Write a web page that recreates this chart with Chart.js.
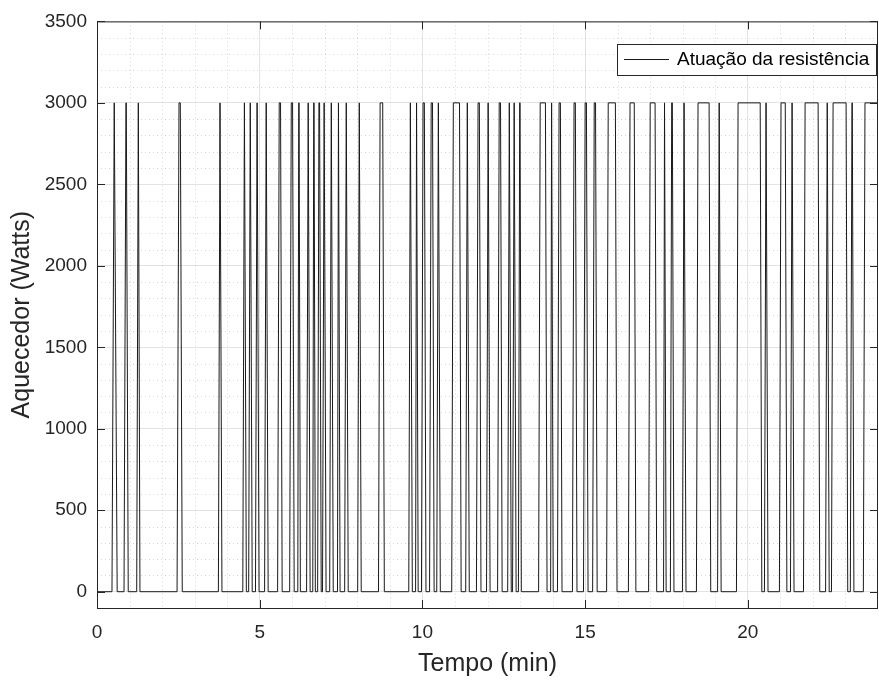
<!DOCTYPE html>
<html lang="pt">
<head>
<meta charset="utf-8">
<title>Atuação da resistência</title>
<script src="https://cdn.jsdelivr.net/npm/chart.js@4/dist/chart.umd.min.js"></script>
<style>
  html, body { margin: 0; padding: 0; background: #fff; }
  #wrap { width: 879px; height: 680px; }
</style>
</head>
<body>
<div id="wrap"><canvas id="grafico" width="879" height="680"></canvas></div>
<script>
// pulsos da resistência: [início da subida, topo início, topo fim, fim da descida] em minutos
const pulsos = [
  [0.46, 0.53, 0.55, 0.62],
  [0.83, 0.89, 0.90, 0.96],
  [1.22, 1.27, 1.28, 1.32],
  [2.46, 2.52, 2.56, 2.62],
  [3.73, 3.78, 3.79, 3.84],
  [4.48, 4.53, 4.54, 4.59],
  [4.66, 4.71, 4.72, 4.77],
  [4.87, 4.92, 4.93, 4.98],
  [5.15, 5.20, 5.21, 5.26],
  [5.55, 5.60, 5.64, 5.69],
  [5.92, 5.97, 6.01, 6.06],
  [6.17, 6.20, 6.21, 6.25],
  [6.44, 6.49, 6.50, 6.55],
  [6.63, 6.66, 6.67, 6.71],
  [6.78, 6.82, 6.84, 6.89],
  [6.93, 6.98, 6.99, 7.04],
  [7.15, 7.20, 7.21, 7.26],
  [7.39, 7.42, 7.43, 7.47],
  [7.61, 7.66, 7.67, 7.72],
  [8.01, 8.06, 8.07, 8.12],
  [8.65, 8.70, 8.78, 8.83],
  [9.58, 9.63, 9.64, 9.69],
  [9.79, 9.82, 9.83, 9.87],
  [9.97, 10.02, 10.06, 10.11],
  [10.22, 10.27, 10.31, 10.36],
  [10.44, 10.49, 10.50, 10.55],
  [10.90, 10.95, 11.14, 11.19],
  [11.33, 11.38, 11.39, 11.44],
  [11.66, 11.71, 11.75, 11.80],
  [11.97, 12.02, 12.03, 12.08],
  [12.31, 12.36, 12.40, 12.45],
  [12.62, 12.67, 12.68, 12.73],
  [12.77, 12.82, 12.83, 12.88],
  [12.95, 12.99, 13.00, 13.04],
  [13.57, 13.62, 13.78, 13.83],
  [13.94, 13.97, 13.98, 14.02],
  [14.15, 14.20, 14.24, 14.29],
  [14.61, 14.66, 14.70, 14.75],
  [14.95, 15.00, 15.04, 15.09],
  [15.23, 15.28, 15.32, 15.37],
  [15.66, 15.71, 15.93, 15.98],
  [16.33, 16.38, 16.51, 16.56],
  [16.95, 17.00, 17.15, 17.20],
  [17.41, 17.44, 17.45, 17.49],
  [17.62, 17.66, 17.68, 17.73],
  [17.99, 18.04, 18.05, 18.10],
  [18.42, 18.47, 18.81, 18.86],
  [19.07, 19.12, 19.13, 19.18],
  [19.65, 19.70, 20.38, 20.43],
  [20.51, 20.56, 20.57, 20.62],
  [20.97, 21.02, 21.15, 21.20],
  [21.31, 21.36, 21.37, 21.42],
  [21.71, 21.76, 22.16, 22.21],
  [22.39, 22.44, 22.45, 22.50],
  [22.57, 22.62, 23.02, 23.07],
  [23.15, 23.20, 23.21, 23.26],
  [23.55, 23.60, 24.00, 24.05]
];
const potenciaLigada = 3000;
const potenciaDesligada = 0;
const tempoFinal = 24;

const ticksX = [0, 5, 10, 15, 20];
const ticksY = [0, 500, 1000, 1500, 2000, 2500, 3000, 3500];

// monta a sequência de vértices da curva a partir dos pulsos
const pontos = [{ x: 0, y: potenciaDesligada }];
pulsos.forEach(p => {
  pontos.push({ x: p[0], y: potenciaDesligada });
  pontos.push({ x: p[1], y: potenciaLigada });
  pontos.push({ x: p[2], y: potenciaLigada });
  pontos.push({ x: p[3], y: potenciaDesligada });
});

const corEixo = '#262626';
const fonte = '"Liberation Sans", Arial, Helvetica, sans-serif';

// grade secundária pontilhada, moldura, marcas internas e legenda no estilo do MATLAB
const estiloMatlab = {
  id: 'estiloMatlab',
  beforeDatasetsDraw(chart) {
    const { ctx, chartArea: a, scales: { x, y } } = chart;
    ctx.save();
    ctx.beginPath();
    ctx.rect(a.left, a.top, a.right - a.left, a.bottom - a.top);
    ctx.clip();
    ctx.strokeStyle = 'rgba(0,0,0,0.16)';
    ctx.lineWidth = 1;
    ctx.setLineDash([1, 3]);
    for (let t = 1; t < tempoFinal; t++) {
      if (t % 5 === 0) continue;
      const px = Math.round(x.getPixelForValue(t)) + 0.5;
      ctx.beginPath(); ctx.moveTo(px, a.top); ctx.lineTo(px, a.bottom); ctx.stroke();
    }
    for (let w = 100; w < 3500; w += 100) {
      if (w % 500 === 0) continue;
      const py = Math.round(y.getPixelForValue(w)) + 0.5;
      ctx.beginPath(); ctx.moveTo(a.left, py); ctx.lineTo(a.right, py); ctx.stroke();
    }
    ctx.restore();
  },
  afterDraw(chart) {
    const { ctx, chartArea: a, scales: { x, y } } = chart;
    ctx.save();
    ctx.strokeStyle = corEixo;
    ctx.lineWidth = 1;
    ctx.strokeRect(a.left + 0.5, a.top + 0.5, a.right - a.left - 1, a.bottom - a.top);

    // marcas internas nos quatro lados
    const tam = 8;
    ctx.beginPath();
    ticksX.forEach(v => {
      const px = Math.round(x.getPixelForValue(v)) + 0.5;
      ctx.moveTo(px, a.bottom); ctx.lineTo(px, a.bottom - tam);
      ctx.moveTo(px, a.top); ctx.lineTo(px, a.top + tam);
    });
    ticksY.forEach(v => {
      const py = Math.round(y.getPixelForValue(v)) + 0.5;
      ctx.moveTo(a.left, py); ctx.lineTo(a.left + tam, py);
      ctx.moveTo(a.right, py); ctx.lineTo(a.right - tam, py);
    });
    ctx.stroke();

    // legenda
    const ds = chart.data.datasets[0];
    const lx = 617, ly = 44, lw = 259, lh = 31;
    ctx.fillStyle = '#fff';
    ctx.fillRect(lx, ly, lw, lh);
    ctx.strokeStyle = corEixo;
    ctx.strokeRect(lx + 0.5, ly + 0.5, lw, lh);
    ctx.strokeStyle = ds.borderColor;
    ctx.beginPath(); ctx.moveTo(624, ly + 15.5); ctx.lineTo(669, ly + 15.5); ctx.stroke();
    ctx.fillStyle = '#000';
    ctx.font = '19px ' + fonte;
    ctx.textBaseline = 'middle';
    ctx.fillText(ds.label, 677, ly + 16);
    ctx.restore();
  }
};

new Chart(document.getElementById('grafico'), {
  type: 'line',
  data: {
    datasets: [{
      label: 'Atuação da resistência',
      data: pontos,
      borderColor: '#1a1a1a',
      borderWidth: 1,
      pointRadius: 0,
      fill: false,
      tension: 0
    }]
  },
  options: {
    responsive: false,
    animation: false,
    events: [],
    layout: { padding: { top: 19, right: 1, left: 0, bottom: 0 } },
    plugins: { legend: { display: false }, tooltip: { enabled: false } },
    scales: {
      x: {
        type: 'linear',
        min: 0,
        max: tempoFinal,
        afterBuildTicks: s => { s.ticks = ticksX.map(v => ({ value: v })); },
        afterFit: s => { s.height = 72; },
        grid: { color: '#e3e3e3', drawTicks: false },
        border: { display: false },
        ticks: { color: corEixo, padding: 13, font: { family: fonte, size: 19 }, maxRotation: 0, callback: v => String(v) },
        title: { display: true, text: 'Tempo (min)', color: corEixo, padding: { top: 4, bottom: 1 }, font: { family: fonte, size: 25 } }
      },
      y: {
        min: -100,
        max: 3500,
        afterBuildTicks: s => { s.ticks = ticksY.map(v => ({ value: v })); },
        afterFit: s => { s.width = 97; },
        grid: { color: '#e3e3e3', drawTicks: false },
        border: { display: false },
        ticks: { color: corEixo, padding: 10, font: { family: fonte, size: 19 }, callback: v => String(v) },
        title: { display: true, text: 'Aquecedor (Watts)', color: corEixo, padding: { top: 7, bottom: 7 }, font: { family: fonte, size: 25 } }
      }
    }
  },
  plugins: [estiloMatlab]
});
</script>
</body>
</html>
